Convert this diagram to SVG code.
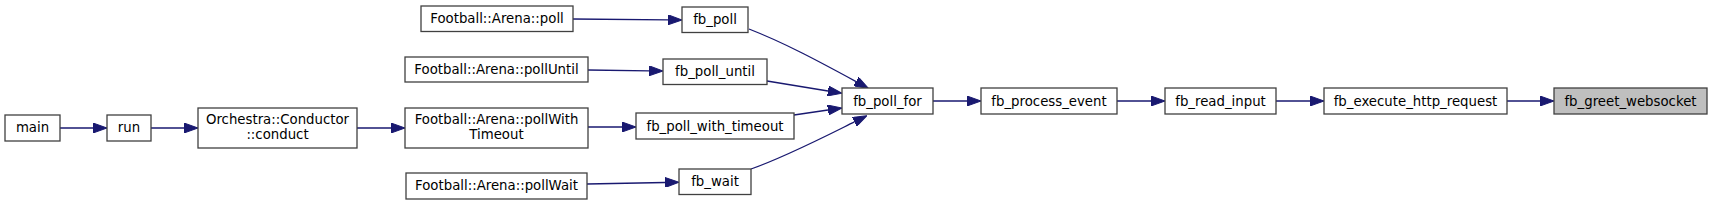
<svg xmlns="http://www.w3.org/2000/svg" width="1712" height="205" viewBox="0 0 1712 205">
<style>
.node rect{fill:#ffffff;stroke:#404040;stroke-width:1.3}
.node.hl rect{fill:#bfbfbf}
.node text{font-family:"DejaVu Sans",sans-serif;font-size:13.3px;fill:#000;text-anchor:middle}
.edges path{fill:none;stroke:#191970;stroke-width:1.3;marker-end:url(#arr)}
</style>
<defs>
<marker id="arr" viewBox="0 0 14 10" refX="0" refY="5" markerWidth="14" markerHeight="10" markerUnits="userSpaceOnUse" orient="auto">
<path d="M0,0 L14,5 L0,10 z" fill="#191970" stroke="#191970" stroke-width="1"/>
</marker>
</defs>
<rect width="1712" height="205" fill="#ffffff"/>
<g class="edges">
<path d="M60,128 L93,128"/>
<path d="M151,128 L184,128"/>
<path d="M357,128 L391,128"/>
<path d="M588,127 L622,127"/>
<path d="M573,19 L668,19.8"/>
<path d="M588,70 L649,70.8"/>
<path d="M587,184 L665,182.5"/>
<path d="M749,29 C785,43 820,62 856,81.5"/>
<path d="M767,81 L828,91"/>
<path d="M794,115 L828,110"/>
<path d="M751,169 C785,157 820,139 854.4,121.9"/>
<path d="M933,101 L967,101"/>
<path d="M1117,101 L1151,101"/>
<path d="M1276,101 L1310,101"/>
<path d="M1507,101 L1540,101"/>
</g>
<g id="node-main" class="node"><rect x="5" y="115" width="55" height="26"/><text x="32.5" y="132">main</text></g>
<g id="node-run" class="node"><rect x="107" y="115" width="44" height="26"/><text x="129" y="132">run</text></g>
<g id="node-conduct" class="node"><rect x="198" y="108" width="159" height="40"/><text x="277.5" y="124">Orchestra::Conductor</text><text x="277.5" y="138.5">::conduct</text></g>
<g id="node-arena-poll" class="node"><rect x="421" y="6" width="152" height="25.5"/><text x="497" y="23">Football::Arena::poll</text></g>
<g id="node-arena-pollUntil" class="node"><rect x="405" y="57" width="183" height="25"/><text x="496.5" y="74">Football::Arena::pollUntil</text></g>
<g id="node-arena-pollWithTimeout" class="node"><rect x="405" y="108" width="183" height="40"/><text x="496.5" y="124">Football::Arena::pollWith</text><text x="496.5" y="138.5">Timeout</text></g>
<g id="node-arena-pollWait" class="node"><rect x="406" y="173" width="181" height="26"/><text x="496.5" y="190">Football::Arena::pollWait</text></g>
<g id="node-fb_poll" class="node"><rect x="682" y="7" width="66" height="25.5"/><text x="715" y="24">fb_poll</text></g>
<g id="node-fb_poll_until" class="node"><rect x="663" y="59" width="104" height="25.5"/><text x="715" y="76">fb_poll_until</text></g>
<g id="node-fb_poll_with_timeout" class="node"><rect x="636" y="113" width="158" height="26"/><text x="715" y="130.5">fb_poll_with_timeout</text></g>
<g id="node-fb_wait" class="node"><rect x="679" y="169" width="72" height="25.5"/><text x="715" y="186">fb_wait</text></g>
<g id="node-fb_poll_for" class="node"><rect x="842" y="88" width="91" height="26"/><text x="887.5" y="105.5">fb_poll_for</text></g>
<g id="node-fb_process_event" class="node"><rect x="981" y="88" width="136" height="26"/><text x="1049" y="105.5">fb_process_event</text></g>
<g id="node-fb_read_input" class="node"><rect x="1165" y="88" width="111" height="26"/><text x="1220.5" y="105.5">fb_read_input</text></g>
<g id="node-fb_execute_http_request" class="node"><rect x="1324" y="88" width="183" height="26"/><text x="1415.5" y="105.5">fb_execute_http_request</text></g>
<g id="node-fb_greet_websocket" class="node hl"><rect x="1554" y="88" width="153" height="26"/><text x="1630.5" y="105.5">fb_greet_websocket</text></g>
</svg>
